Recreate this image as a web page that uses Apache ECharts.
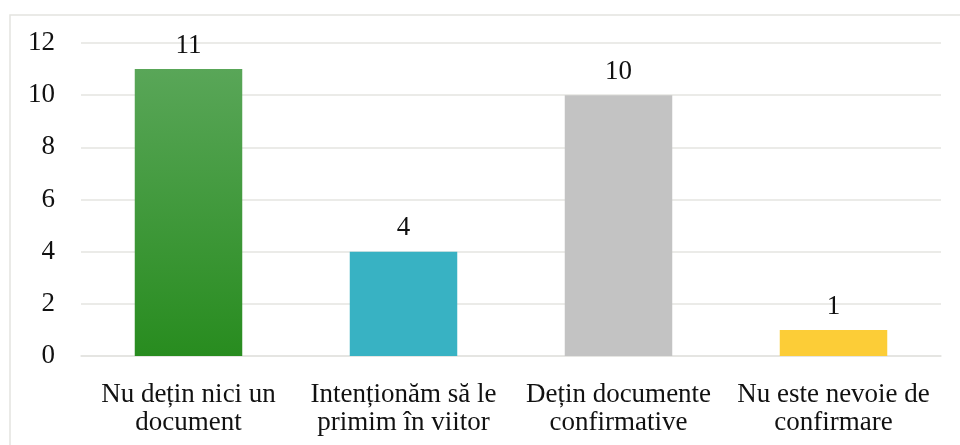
<!DOCTYPE html>
<html>
<head>
<meta charset="utf-8">
<script src="https://cdn.jsdelivr.net/npm/echarts@6/dist/echarts.min.js"></script>
<style>
  html, body { margin: 0; padding: 0; background: #fff; }
  #chart { width: 960px; height: 445px; }
</style>
</head>
<body>
<div id="chart"></div>
<script>
const categories = ['Nu dețin nici un\ndocument', 'Intenționăm să le\nprimim în viitor', 'Dețin documente\nconfirmative', 'Nu este nevoie de\nconfirmare']
const values = [11, 4, 10, 1]
const yTicks = [0, 2, 4, 6, 8, 10, 12]

const barColors = [
  new echarts.graphic.LinearGradient(0, 0, 0, 1, [
    { offset: 0, color: '#59a658' },
    { offset: 1, color: '#288c1f' }
  ]),
  '#38b2c3',
  '#c3c3c3',
  '#fccd37'
]

const fontFamily = 'Liberation Serif'
const fontSize = 27

const chart = echarts.init(document.getElementById('chart'))

chart.setOption({
  animation: false,
  graphic: [{
    type: 'rect',
    shape: { x: 10, y: 15, width: 970, height: 450 },
    style: { fill: 'none', stroke: '#e4e4e0', lineWidth: 1.5 },
    silent: true
  }],
  grid: { left: 81, right: 19, top: 43, bottom: 89 },
  xAxis: {
    type: 'category',
    data: categories,
    axisLine: { lineStyle: { color: '#e4e4e0', width: 1.5 } },
    axisTick: { show: false },
    axisLabel: {
      color: '#111',
      fontSize: fontSize,
      fontFamily: fontFamily,
      lineHeight: 28,
      margin: 25,
      interval: 0
    }
  },
  yAxis: {
    type: 'value',
    min: yTicks[0],
    max: yTicks[yTicks.length - 1],
    interval: 2,
    axisLine: { show: false },
    axisTick: { show: false },
    splitLine: { lineStyle: { color: '#e4e4e0', width: 1.5 } },
    axisLabel: {
      color: '#111',
      fontSize: fontSize,
      fontFamily: fontFamily,
      margin: 26
    }
  },
  series: [{
    type: 'bar',
    barWidth: '50%',
    data: values.map((v, i) => ({ value: v, itemStyle: { color: barColors[i] } })),
    label: {
      show: true,
      position: 'top',
      distance: 10,
      color: '#111',
      fontSize: fontSize,
      fontFamily: fontFamily
    }
  }]
})
</script>
</body>
</html>
